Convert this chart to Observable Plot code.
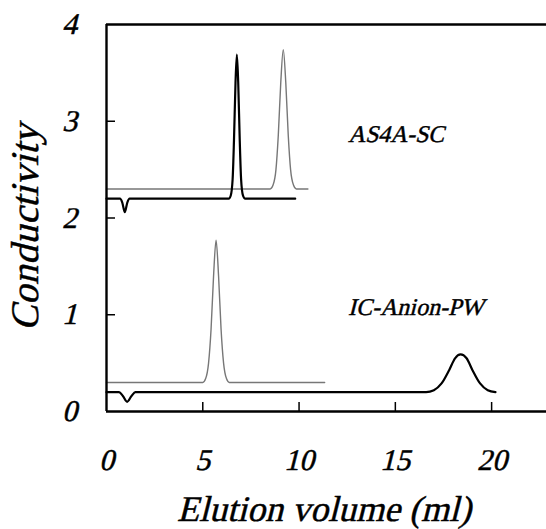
<!DOCTYPE html>
<html><head><meta charset="utf-8">
<script src="https://cdn.jsdelivr.net/npm/d3@7"></script>
<script src="https://cdn.jsdelivr.net/npm/@observablehq/plot@0.6"></script>
<style>
@font-face{font-family:"SerifOblique";src:local("Liberation Serif"),local("LiberationSerif"),local("Liberation Serif Regular");font-style:normal;font-weight:400;}
body{margin:0;background:#fff}
#chart svg text{font-family:"SerifOblique","Liberation Serif",serif !important;font-style:italic !important;font-synthesis:style weight;stroke:#000;stroke-width:0.45px;}
</style>
</head><body><div id="chart"></div>
<script>
const xTicks = [0, 5, 10, 15, 20];
const yTicks = [0, 1, 2, 3, 4];
const innerXTicks = [5, 10, 15, 20];
const innerYTicks = [1, 2, 3];

// AS4A-SC column, black trace [elution ml, conductivity]
const as4aBlack = [[0,2.2],[0.7,2.2],[0.82,2.16],[0.95,2.06],[1.08,2.16],[1.2,2.2],[6.35,2.2],[6.45,2.23],[6.55,2.4],[6.62,2.8],[6.7,3.4],[6.77,3.69],[6.84,3.4],[6.92,2.8],[6.99,2.4],[7.09,2.23],[7.2,2.2],[9.8,2.2]];
// AS4A-SC column, grey trace
const as4aGrey = [[0,2.3],[8.5,2.3],[8.65,2.34],[8.8,2.5],[8.92,2.85],[9.05,3.4],[9.18,3.74],[9.31,3.4],[9.44,2.85],[9.56,2.5],[9.71,2.34],[9.86,2.3],[10.46,2.3]];
// IC-Anion-PW column, black trace
const icBlack = [[0,0.2],[0.65,0.2],[0.85,0.16],[1.07,0.1],[1.3,0.16],[1.5,0.2],[16.6,0.2],[17.0,0.22],[17.4,0.29],[17.8,0.43],[18.1,0.55],[18.39,0.59],[18.7,0.55],[19.0,0.43],[19.4,0.29],[19.8,0.22],[20.2,0.2]];
// IC-Anion-PW column, grey trace
const icGrey = [[0,0.3],[5.0,0.3],[5.15,0.34],[5.3,0.5],[5.43,0.85],[5.56,1.4],[5.69,1.77],[5.82,1.4],[5.95,0.85],[6.08,0.5],[6.23,0.34],[6.38,0.3],[11.33,0.3]];

const seriesLabels = [
  {name: "AS4A-SC", x: 12.55, y: 2.86},
  {name: "IC-Anion-PW", x: 12.55, y: 1.075}
];

const px = d => d[0], py = d => d[1];
const noText = () => "";

const chart = Plot.plot({
  width: 546,
  height: 529,
  marginTop: 24,
  marginLeft: 106,
  marginRight: 0,
  marginBottom: 118,
  style: {background: "#fff", color: "#000"},
  x: {domain: [0, 22.85]},
  y: {domain: [0, 4]},
  marks: [
    Plot.axisX({ticks: xTicks, tickFormat: d => String(d), tickSize: 0, tickPadding: 37, fontSize: 30, label: null}),
    Plot.axisY({ticks: yTicks, tickFormat: d => String(d), tickSize: 0, tickPadding: 30, fontSize: 30, label: null}),
    Plot.line(as4aGrey, {x: px, y: py, stroke: "#777", strokeWidth: 1.4, curve: "monotone-x"}),
    Plot.line(icGrey, {x: px, y: py, stroke: "#777", strokeWidth: 1.4, curve: "monotone-x"}),
    Plot.line(as4aBlack, {x: px, y: py, stroke: "#000", strokeWidth: 2.2, curve: "monotone-x"}),
    Plot.line(icBlack, {x: px, y: py, stroke: "#000", strokeWidth: 2.2, curve: "monotone-x"}),
    Plot.ruleY([0, 4], {stroke: "#000", strokeWidth: 2.4}),
    Plot.ruleX([0], {stroke: "#000", strokeWidth: 2.4}),
    Plot.axisX({ticks: innerXTicks, tickSize: -9, tickFormat: noText, stroke: "#000", strokeWidth: 1.5, label: null}),
    Plot.axisY({ticks: innerYTicks, tickSize: -9, tickFormat: noText, stroke: "#000", strokeWidth: 1.5, label: null}),
    Plot.text(seriesLabels, {x: "x", y: "y", text: "name", textAnchor: "start", lineAnchor: "middle", fontSize: 24, fill: "#000"}),
    Plot.text(["Elution volume (ml)"], {frameAnchor: "bottom", textAnchor: "middle", dx: -3, dy: 98, lineAnchor: "middle", fontSize: 36, fill: "#000"}),
    Plot.text(["Conductivity"], {frameAnchor: "left", textAnchor: "middle", dx: -81, dy: 9, rotate: -90, lineAnchor: "middle", fontSize: 39, fill: "#000"})
  ]
});
document.getElementById("chart").appendChild(chart);
</script>
</body></html>
